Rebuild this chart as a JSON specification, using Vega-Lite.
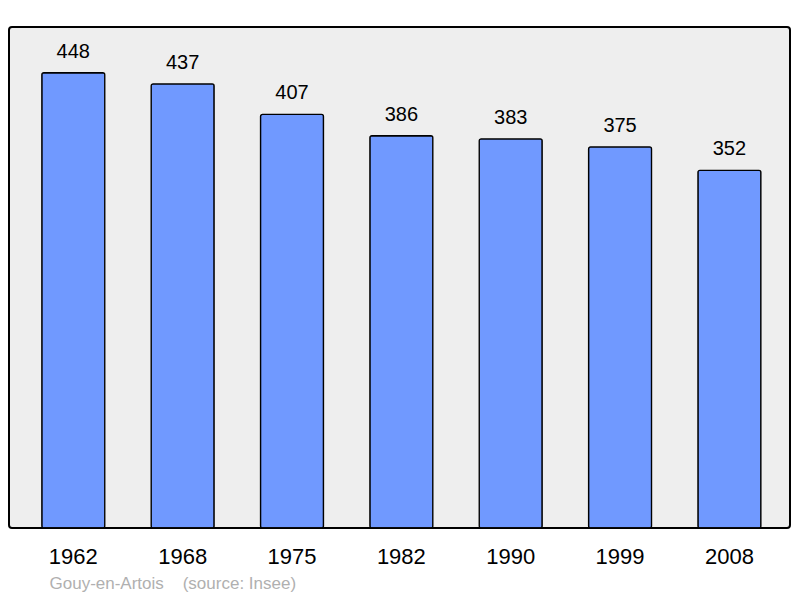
{
  "$schema": "https://vega.github.io/schema/vega-lite/v6.json",
  "autosize": {"type": "none"},
  "width": 781,
  "height": 501,
  "padding": {"left": 9, "top": 27, "right": 10, "bottom": 70},
  "background": "white",
  "config": {
    "font": "Liberation Sans",
    "view": {"fill": "#eeeeee", "stroke": "black", "strokeWidth": 2, "cornerRadius": 3}
  },
  "data": {
    "values": [
      {"year": "1962", "pop": 448},
      {"year": "1968", "pop": 437},
      {"year": "1975", "pop": 407},
      {"year": "1982", "pop": 386},
      {"year": "1990", "pop": 383},
      {"year": "1999", "pop": 375},
      {"year": "2008", "pop": 352}
    ]
  },
  "encoding": {
    "x": {
      "field": "year", "type": "ordinal",
      "scale": {"paddingInner": 0.424, "paddingOuter": 0.283, "align": 0.53},
      "axis": {
        "domain": false, "ticks": false, "labelAngle": 0,
        "labelFontSize": 22, "labelColor": "black", "labelPadding": 18,
        "title": "Gouy-en-Artois\u00a0\u00a0\u00a0\u00a0(source: Insee)",
        "titleFontSize": 17, "titleFontWeight": "normal", "titleColor": "#b0b0b0",
        "titleX": 40, "titleY": 60, "titleAlign": "left", "titleBaseline": "alphabetic"
      }
    },
    "y": {
      "field": "pop", "type": "quantitative",
      "scale": {"domain": [0, 493], "nice": false},
      "axis": null
    }
  },
  "layer": [
    {"mark": {"type": "bar", "fill": "#7099ff", "stroke": "black", "strokeWidth": 1.3, "cornerRadius": 2}},
    {"mark": {"type": "text", "baseline": "alphabetic", "dy": -15, "fontSize": 20, "color": "black"},
     "encoding": {"text": {"field": "pop", "type": "quantitative"}}}
  ]
}
